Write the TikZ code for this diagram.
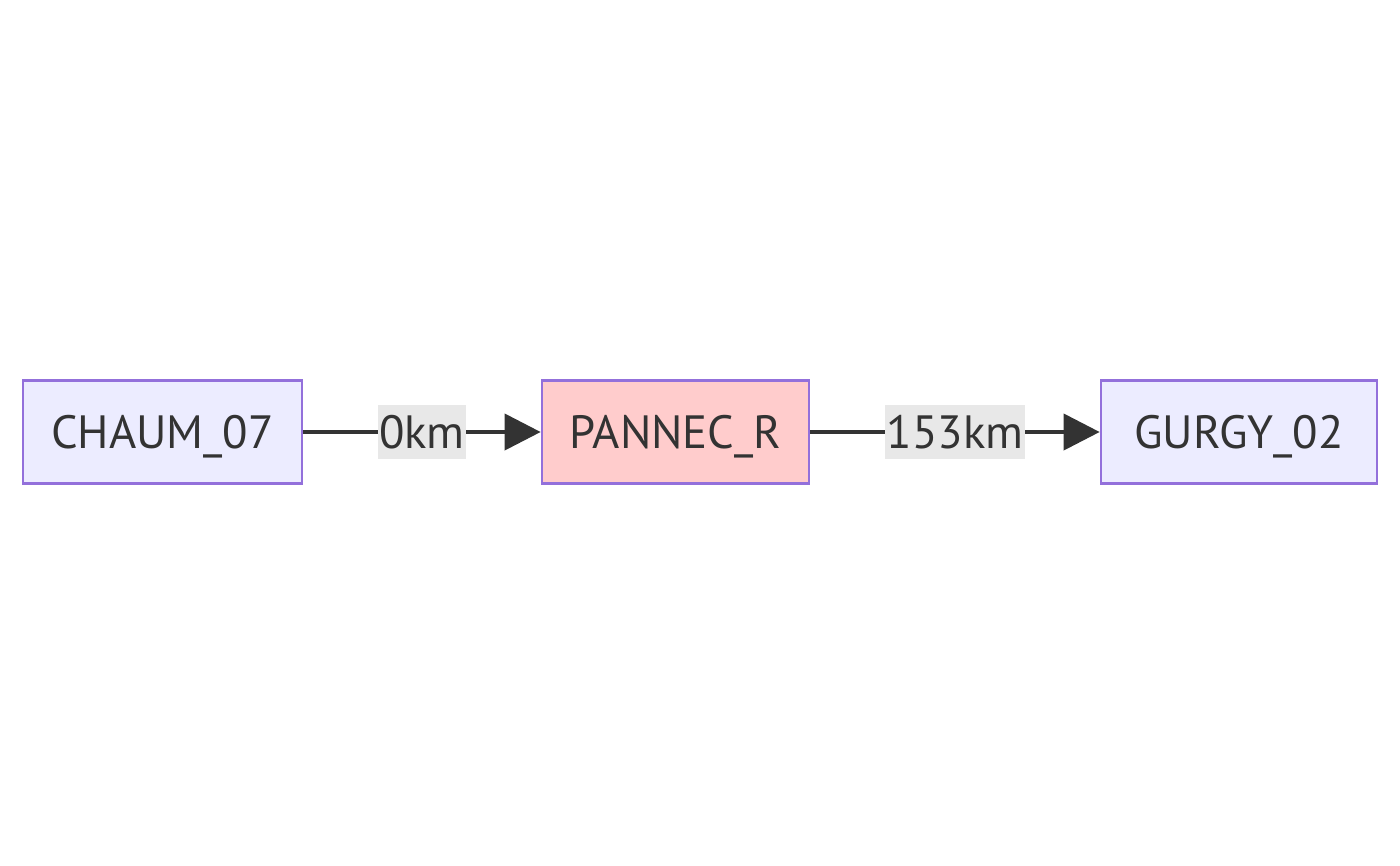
\documentclass[tikz,border=0pt]{standalone}
\usepackage{fontspec}
\setmainfont{PT Sans}
\usetikzlibrary{arrows.meta}
\definecolor{boxfill}{HTML}{ECECFF}
\definecolor{boxline}{HTML}{9370DB}
\definecolor{redfill}{HTML}{FFCCCC}
\definecolor{ink}{HTML}{333333}
\definecolor{lblbg}{HTML}{E8E8E8}
\tikzset{
  stationbox/.style={draw=boxline, line width=2pt, fill=boxfill, minimum height=77.25pt,
    inner sep=0pt, text=ink, font=\fontsize{35}{38}\selectfont, text height=24.5pt, text depth=0pt},
  flagbox/.style={stationbox, fill=redfill},
  link/.style={draw=ink, line width=3pt, -{Triangle[length=27pt,width=27pt]}},
  dist/.style={fill=lblbg, text=ink, inner xsep=1pt, minimum height=40.5pt, inner ysep=0pt,
    font=\fontsize{35}{38}\selectfont, text height=24.5pt, text depth=0pt}
}
\begin{document}
\begin{tikzpicture}[x=0.75pt,y=-0.75pt]
\useasboundingbox (0,0) rectangle (1400,865);
\fill[white] (0,0) rectangle (1400,865);
\node[stationbox, minimum width=209.25pt] (a) at (162.5,432) {CHAUM\_07};
\node[flagbox, minimum width=200.25pt] (b) at (675.5,432) {PANNEC\_R};
\node[stationbox, minimum width=207pt] (c) at (1239,432) {GURGY\_02};
\draw[link] (a.east) -- node[dist] (la) {0km} (b.west);
\draw[link] (b.east) -- node[dist] (lb) {153km} (c.west);
\end{tikzpicture}
\end{document}
